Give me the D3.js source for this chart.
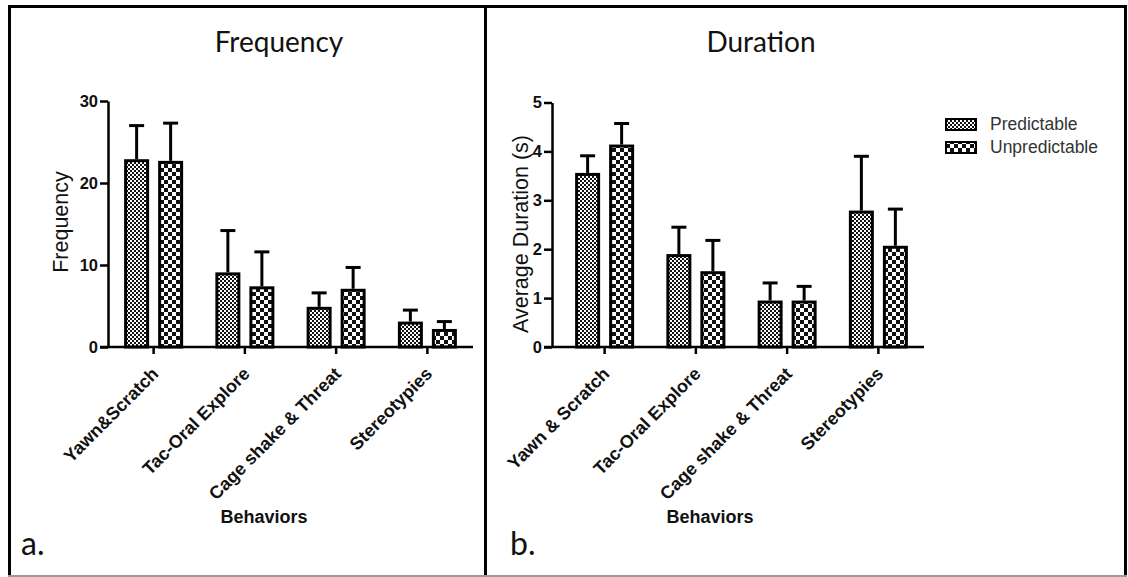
<!DOCTYPE html>
<html>
<head>
<meta charset="utf-8">
<script src="https://cdn.jsdelivr.net/npm/d3@7"></script>
<style>
  html, body { margin: 0; padding: 0; background: #fff; }
  svg { display: block; }
</style>
</head>
<body>
<svg id="fig" width="1128" height="577"></svg>
<script>
// Behaviour categories for each panel
const freqCategories = ["Yawn&Scratch", "Tac-Oral Explore", "Cage shake & Threat", "Stereotypies"];
const durCategories = ["Yawn & Scratch", "Tac-Oral Explore", "Cage shake & Threat", "Stereotypies"];
const seriesNames = ["Predictable", "Unpredictable"];

// Frequency: means and SEM
const freqPredMean = [22.9, 9.1, 4.9, 3.1];
const freqPredSem = [4.1, 5.1, 1.7, 1.4];
const freqUnpredMean = [22.7, 7.4, 7.1, 2.2];
const freqUnpredSem = [4.6, 4.2, 2.6, 0.9];

// Average duration (s): means and SEM
const durPredMean = [3.56, 1.9, 0.95, 2.79];
const durPredSem = [0.35, 0.55, 0.36, 1.11];
const durUnpredMean = [4.14, 1.55, 0.95, 2.07];
const durUnpredSem = [0.43, 0.63, 0.29, 0.75];

// Axis ticks
const freqTicks = [0, 10, 20, 30];
const durTicks = [0, 1, 2, 3, 4, 5];

const svg = d3.select("#fig");
const defs = svg.append("defs");

// Fine checker fill (Predictable)
const fine = defs.append("pattern").attr("id", "fine")
  .attr("patternUnits", "userSpaceOnUse").attr("width", 4).attr("height", 4);
fine.append("rect").attr("width", 4).attr("height", 4).attr("fill", "#fff");
fine.append("rect").attr("x", 0).attr("y", 0).attr("width", 2).attr("height", 2).attr("fill", "#111");
fine.append("rect").attr("x", 2).attr("y", 2).attr("width", 2).attr("height", 2).attr("fill", "#111");

// Coarse checker fill (Unpredictable)
const coarse = defs.append("pattern").attr("id", "coarse")
  .attr("patternUnits", "userSpaceOnUse").attr("width", 8).attr("height", 8);
coarse.append("rect").attr("width", 8).attr("height", 8).attr("fill", "#fff");
coarse.append("rect").attr("x", 0).attr("y", 0).attr("width", 4).attr("height", 4).attr("fill", "#111");
coarse.append("rect").attr("x", 4).attr("y", 4).attr("width", 4).attr("height", 4).attr("fill", "#111");

const fills = { Predictable: "url(#fine)", Unpredictable: "url(#coarse)" };

// Frame around both panels
const frame = svg.append("g");
frame.append("line").attr("x1", 8).attr("x2", 1127).attr("y1", 6.5).attr("y2", 6.5)
  .attr("stroke", "#000").attr("stroke-width", 3);
frame.append("line").attr("x1", 9.5).attr("x2", 9.5).attr("y1", 5).attr("y2", 576)
  .attr("stroke", "#000").attr("stroke-width", 3);
frame.append("line").attr("x1", 485.5).attr("x2", 485.5).attr("y1", 5).attr("y2", 577)
  .attr("stroke", "#000").attr("stroke-width", 3);
frame.append("line").attr("x1", 1125.5).attr("x2", 1125.5).attr("y1", 5).attr("y2", 577)
  .attr("stroke", "#000").attr("stroke-width", 3);
frame.append("line").attr("x1", 8).attr("x2", 1127).attr("y1", 576).attr("y2", 576)
  .attr("stroke", "#999").attr("stroke-width", 2);

function drawPanel(opt) {
  const g = svg.append("g");
  const x = d3.scaleBand().domain(opt.categories).range(opt.xRange).paddingInner(0).paddingOuter(0);
  const y = d3.scaleLinear().domain(opt.yDomain).range(opt.yRange);
  const sub = d3.scaleBand().domain(seriesNames).range([-29.5, 29.5]).paddingInner(0.265);
  const sw = 3;

  const rows = [];
  opt.categories.forEach((c, i) => {
    rows.push({ cat: c, s: "Predictable", mean: opt.pred[i], sem: opt.predSem[i] });
    rows.push({ cat: c, s: "Unpredictable", mean: opt.unpred[i], sem: opt.unpredSem[i] });
  });
  const cx = d => x(d.cat) + x.bandwidth() / 2 + sub(d.s) + sub.bandwidth() / 2;

  // error bars (upper only)
  const eb = g.append("g").attr("stroke", "#000").attr("stroke-width", 3);
  eb.selectAll("line.v").data(rows).join("line")
    .attr("x1", cx).attr("x2", cx)
    .attr("y1", d => y(d.mean)).attr("y2", d => y(d.mean + d.sem));
  eb.selectAll("line.c").data(rows).join("line")
    .attr("x1", d => cx(d) - 7.5).attr("x2", d => cx(d) + 7.5)
    .attr("y1", d => y(d.mean + d.sem)).attr("y2", d => y(d.mean + d.sem));

  // bars
  g.append("g").selectAll("rect").data(rows).join("rect")
    .attr("x", d => x(d.cat) + x.bandwidth() / 2 + sub(d.s) + sw / 2)
    .attr("width", sub.bandwidth() - sw)
    .attr("y", d => y(d.mean) + sw / 2)
    .attr("height", d => y(0) - y(d.mean) - sw / 2)
    .attr("fill", d => fills[d.s])
    .attr("stroke", "#000").attr("stroke-width", sw);

  // y axis
  const ya = g.append("g").attr("transform", `translate(${opt.yAxisX},0)`)
    .call(d3.axisLeft(y).tickValues(opt.ticks).tickFormat(d3.format("d"))
      .tickSize(8).tickPadding(2).tickSizeOuter(0));
  ya.select(".domain").attr("stroke", "#000").attr("stroke-width", 2.5);
  ya.selectAll(".tick line").attr("stroke", "#000").attr("stroke-width", 2.5);
  ya.selectAll(".tick text").attr("font-family", "Liberation Sans, Arial, sans-serif")
    .attr("font-weight", "bold").attr("font-size", 16.5).attr("fill", "#111");

  // x axis
  const xa = g.append("g").attr("transform", `translate(0,${y(0)})`)
    .call(d3.axisBottom(x).tickSize(7).tickSizeOuter(0).tickFormat(""));
  xa.select(".domain").remove();
  xa.selectAll(".tick line").attr("stroke", "#000").attr("stroke-width", 2.5);
  g.append("line").attr("x1", opt.yAxisX - 8).attr("x2", opt.xRange[1])
    .attr("y1", y(0)).attr("y2", y(0)).attr("stroke", "#000").attr("stroke-width", 2.5);

  // rotated category labels
  g.append("g").selectAll("text").data(opt.categories).join("text")
    .attr("transform", c => `translate(${x(c) + x.bandwidth() / 2 + 6},${y(0) + 28}) rotate(-45)`)
    .attr("text-anchor", "end")
    .attr("font-family", "Liberation Sans, Arial, sans-serif")
    .attr("font-weight", "bold").attr("font-size", 18).attr("fill", "#111")
    .text(c => c);

  // axis titles
  g.append("text").attr("x", opt.xTitleX).attr("y", 523).attr("text-anchor", "middle")
    .attr("font-family", "Liberation Sans, Arial, sans-serif").attr("font-weight", "bold")
    .attr("font-size", 18).attr("fill", "#111").text("Behaviors");
  g.append("text")
    .attr("transform", `translate(${opt.yTitleX},${opt.yTitleY}) rotate(-90)`)
    .attr("text-anchor", "middle")
    .attr("font-family", "Liberation Sans, Arial, sans-serif")
    .attr("font-size", 21.5).attr("fill", "#111").text(opt.yTitle);

  // panel title and letter
  g.append("text").attr("x", opt.titleX).attr("y", 52).attr("text-anchor", "middle")
    .attr("font-family", "Lato, Carlito, sans-serif").attr("font-size", 28).attr("fill", "#111")
    .text(opt.title);
  g.append("text").attr("x", opt.letterX).attr("y", 555)
    .attr("font-family", "Lato, Carlito, sans-serif").attr("font-size", 32).attr("fill", "#111")
    .text(opt.letter);
}

drawPanel({
  categories: freqCategories, pred: freqPredMean, predSem: freqPredSem,
  unpred: freqUnpredMean, unpredSem: freqUnpredSem,
  xRange: [108, 473], yAxisX: 108, yDomain: [0, 30], yRange: [347, 101], ticks: freqTicks,
  yTitle: "Frequency", yTitleX: 68, yTitleY: 222, xTitleX: 264,
  title: "Frequency", titleX: 279, letter: "a.", letterX: 21
});

drawPanel({
  categories: durCategories, pred: durPredMean, predSem: durPredSem,
  unpred: durUnpredMean, unpredSem: durUnpredSem,
  xRange: [559, 924], yAxisX: 552, yDomain: [0, 5], yRange: [347, 102.5], ticks: durTicks,
  yTitle: "Average Duration (s)", yTitleX: 528, yTitleY: 234, xTitleX: 710,
  title: "Duration", titleX: 761, letter: "b.", letterX: 510
});

// legend
const legend = svg.append("g").attr("transform", "translate(946,0)");
seriesNames.forEach((s, i) => {
  const yy = 119 + i * 23;
  legend.append("rect").attr("x", 0).attr("y", yy).attr("width", 30).attr("height", 11)
    .attr("fill", fills[s]).attr("stroke", "#000").attr("stroke-width", 2);
  legend.append("text").attr("x", 44).attr("y", yy + 11)
    .attr("font-family", "Liberation Sans, Arial, sans-serif").attr("font-size", 17.5)
    .attr("fill", "#333").text(s);
});
</script>
</body>
</html>
